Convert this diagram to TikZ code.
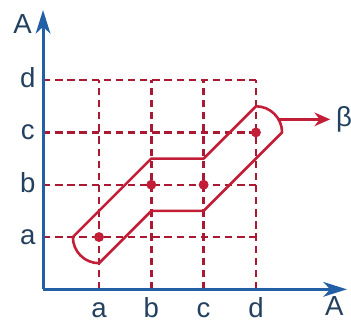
\documentclass[tikz,border=0pt]{standalone}
\usepackage{fontspec}
\setmainfont{Liberation Sans}
\usetikzlibrary{arrows.meta}
\definecolor{axisblue}{RGB}{35,95,165}
\definecolor{labelink}{RGB}{35,65,95}
\definecolor{gridred}{RGB}{170,25,50}
\definecolor{bandred}{RGB}{195,30,55}

\begin{document}
\begin{tikzpicture}[
  font=\fontsize{15}{17}\selectfont,
  axis/.style={
    draw=axisblue,
    line width=1.6pt,
    -{Stealth[length=4.5mm,width=2.8mm,inset=1.3mm,fill=axisblue]}
  },
  gridline/.style={
    draw=gridred,
    line width=1.3pt,
    dash pattern=on 4pt off 2.6pt
  },
  lbl/.style={text=labelink, inner sep=1pt, anchor=base},
  dot/.style={circle, fill=bandred, inner sep=0pt, minimum size=1.9mm},
  band/.style={draw=bandred, line width=1.4pt, line join=round},
  arr/.style={draw=bandred, line width=1.4pt, -{Stealth[length=3mm,width=2.6mm]}}
]
\useasboundingbox (-0.893,-0.625) rectangle (5.818,5.532);

% axes
\coordinate (O) at (-0.07,0);
\coordinate (ytop) at (-0.07,5.34);
\coordinate (xend) at (5.74,0);

% grid
\draw[gridline] (O |- 0,1) -- (4,1);
\draw[gridline] (O |- 0,2) -- (4,2);
\draw[gridline] (O |- 0,3) -- (4,3);
\draw[gridline] (O |- 0,4) -- (4,4);
\draw[gridline] (1,0) -- (1,4);
\draw[gridline] (2,0) -- (2,4);
\draw[gridline] (3,0) -- (3,4);
\draw[gridline] (4,0) -- (4,4);

\draw[axis] (O) -- (ytop);
\draw[axis] (O) -- (xend);

\node[lbl] (yname) at (-0.46,4.90) {A};
\node[lbl, anchor=base west] (xname) at (5.28,-0.50) {A};

\node[lbl] (ya) at (-0.36,0.86) {a};
\node[lbl] (yb) at (-0.36,1.86) {b};
\node[lbl] (yc) at (-0.36,2.86) {c};
\node[lbl] (yd) at (-0.36,3.86) {d};
\node[lbl] (xa) at (1,-0.54) {a};
\node[lbl] (xb) at (2,-0.54) {b};
\node[lbl] (xc) at (3,-0.54) {c};
\node[lbl] (xd) at (4,-0.54) {d};

% band round the points
\draw[band] (0.5,1) arc[start angle=180, end angle=270, radius=0.5]
  -- (2,1.5) -- (3,1.5) -- (4.5,3)
  arc[start angle=0, end angle=90, radius=0.5]
  -- (3,2.5) -- (2,2.5) -- cycle;

\node[dot] (pa) at (1,1) {};
\node[dot] (pb) at (2,2) {};
\node[dot] (pc) at (3,2) {};
\node[dot] (pd) at (4,3) {};

\coordinate (bstart) at (4.433,3.25);
\node[text=labelink, anchor=west, inner sep=3pt] (beta) at (5.42,3.25) {β};
\draw[arr] (bstart) -- (bstart -| beta.west);
\end{tikzpicture}
\end{document}
